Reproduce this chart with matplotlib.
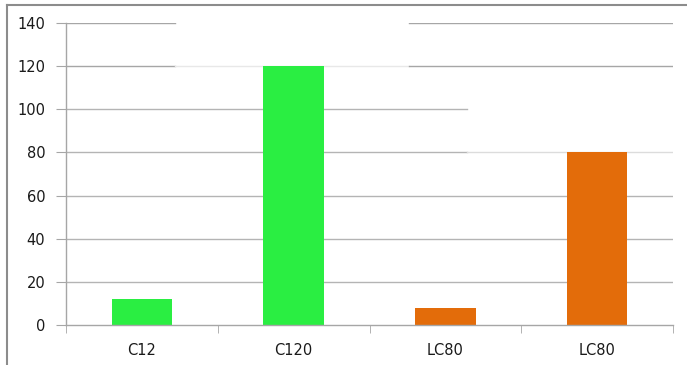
import matplotlib.pyplot as plt
from matplotlib.lines import Line2D

categories = ["C12", "C120", "LC80", "LC80"]
values = [12, 120, 8, 80]
bar_colors = ["#2aee42", "#2aee42", "#e36c0a", "#e36c0a"]
y_ticks = [0, 20, 40, 60, 80, 100, 120, 140]

# gridline segments as (value, xmin, xmax, colour) in axes fraction
grid_segments = [
    (140, 0.0, 0.18, "#a6a6a6"), (140, 0.565, 1.0, "#a6a6a6"),
    (120, 0.0, 0.18, "#a6a6a6"), (120, 0.18, 0.565, "#e8e8e8"), (120, 0.565, 1.0, "#a6a6a6"),
    (100, 0.0, 0.66, "#b4b4b4"),
    (80, 0.0, 0.66, "#b4b4b4"), (80, 0.66, 1.0, "#dcdcdc"),
    (60, 0.0, 1.0, "#b4b4b4"), (40, 0.0, 1.0, "#b4b4b4"), (20, 0.0, 1.0, "#b4b4b4"),
]

fig = plt.figure(figsize=(6.87, 3.65), dpi=100)
ax = fig.add_axes([66 / 687, 1 - 325 / 365, 607 / 687, 302 / 365])

for val, x0, x1, col in grid_segments:
    ax.axhline(val, xmin=x0, xmax=x1, color=col, lw=1.0, zorder=0)

pos = list(range(len(categories)))
ax.bar(pos, values, width=0.4, color=bar_colors, zorder=2)

ax.set_xlim(-0.5, len(categories) - 0.5)
ax.set_ylim(0, 140)
ax.set_yticks(y_ticks)
ax.set_xticks(pos)
ax.set_xticklabels(categories)
ax.set_xticks([p - 0.5 for p in range(len(categories) + 1)], minor=True)

for side in ["top", "right"]:
    ax.spines[side].set_visible(False)
for side in ["left", "bottom"]:
    ax.spines[side].set_color("#a6a6a6")
    ax.spines[side].set_linewidth(1.0)

ax.tick_params(axis="y", length=7, color="#a6a6a6", labelsize=10.5, pad=8, labelcolor="#1a1a1a")
ax.tick_params(axis="x", which="major", length=0, labelsize=10.5, pad=13, labelcolor="#1a1a1a")
ax.tick_params(axis="x", which="minor", length=6, color="#a6a6a6")

# chart frame
fig.add_artist(Line2D([7 / 687, 1.0], [1 - 5 / 365, 1 - 5 / 365], color="#8c8c8c", lw=1.5))
fig.add_artist(Line2D([7 / 687, 7 / 687], [0.0, 1 - 5 / 365], color="#8c8c8c", lw=1.5))

fig.savefig("out.png", dpi=100)
